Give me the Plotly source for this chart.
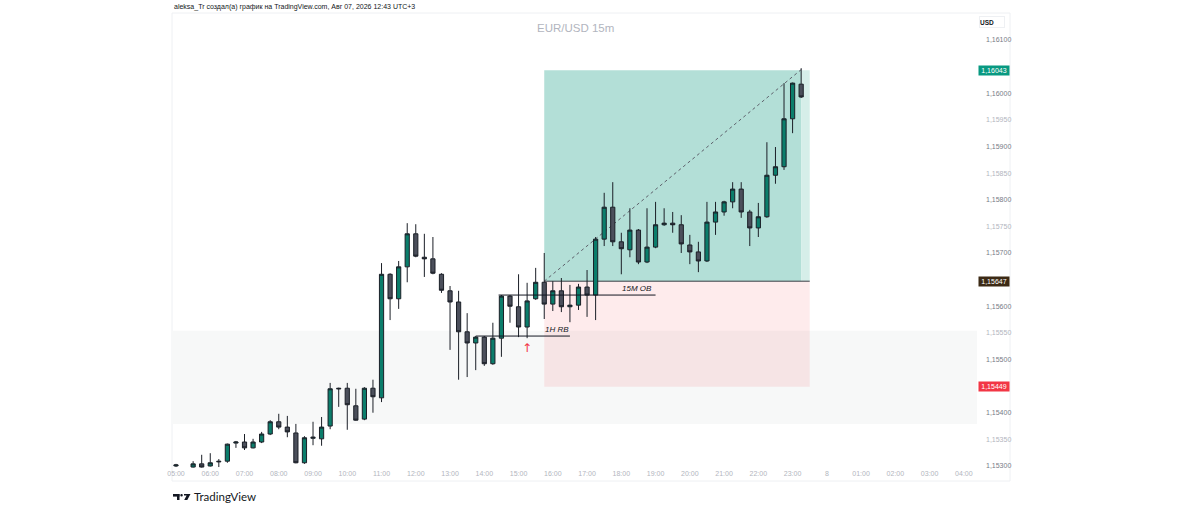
import pandas as pd
import plotly.graph_objects as go

# EUR/USD 15m candles, 07 Aug 2026 05:00 .. 23:15
times = pd.date_range("2026-08-07 05:00", periods=74, freq="15min")

opens = [1.15300, 1.15292, 1.15298, 1.15304, 1.15300, 1.15309, 1.15309, 1.15343, 1.15345, 1.15334,
         1.15345, 1.15360, 1.15383, 1.15373, 1.15362, 1.15306, 1.15352, 1.15351, 1.15375, 1.15446,
         1.15446, 1.15413, 1.15388, 1.15446, 1.15428, 1.15660, 1.15614, 1.15674, 1.15736, 1.15692,
         1.15689, 1.15660, 1.15629, 1.15608, 1.15552, 1.15531, 1.15542, 1.15492, 1.15540, 1.15619,
         1.15599, 1.15561, 1.15614, 1.15645, 1.15604, 1.15629, 1.15599, 1.15602, 1.15636, 1.15621,
         1.15726, 1.15786, 1.15721, 1.15706, 1.15743, 1.15683, 1.15711, 1.15753, 1.15756, 1.15753,
         1.15715, 1.15702, 1.15685, 1.15758, 1.15777, 1.15796, 1.15820, 1.15777, 1.15747, 1.15768,
         1.15846, 1.15862, 1.15952, 1.16017]
highs = [1.15304, 1.15294, 1.15309, 1.15321, 1.15324, 1.15313, 1.15342, 1.15347, 1.15360, 1.15351,
         1.15364, 1.15386, 1.15398, 1.15394, 1.15379, 1.15356, 1.15383, 1.15392, 1.15456, 1.15447,
         1.15456, 1.15445, 1.15448, 1.15462, 1.15681, 1.15662, 1.15685, 1.15756, 1.15754, 1.15736,
         1.15730, 1.15662, 1.15638, 1.15629, 1.15587, 1.15544, 1.15544, 1.15569, 1.15621, 1.15621,
         1.15660, 1.15644, 1.15672, 1.15700, 1.15647, 1.15653, 1.15640, 1.15642, 1.15668, 1.15730,
         1.15813, 1.15833, 1.15738, 1.15784, 1.15745, 1.15784, 1.15796, 1.15784, 1.15777, 1.15771,
         1.15734, 1.15721, 1.15796, 1.15796, 1.15798, 1.15833, 1.15833, 1.15781, 1.15794, 1.15908,
         1.15899, 1.16019, 1.16020, 1.16047]
lows = [1.15298, 1.15277, 1.15297, 1.15297, 1.15299, 1.15298, 1.15306, 1.15334, 1.15330, 1.15333,
        1.15343, 1.15358, 1.15369, 1.15354, 1.15305, 1.15304, 1.15339, 1.15338, 1.15369, 1.15411,
        1.15368, 1.15385, 1.15386, 1.15400, 1.15420, 1.15574, 1.15595, 1.15645, 1.15692, 1.15655,
        1.15660, 1.15625, 1.15518, 1.15462, 1.15467, 1.15480, 1.15488, 1.15490, 1.15505, 1.15569,
        1.15542, 1.15540, 1.15612, 1.15576, 1.15591, 1.15589, 1.15570, 1.15593, 1.15580, 1.15574,
        1.15713, 1.15713, 1.15660, 1.15692, 1.15679, 1.15681, 1.15709, 1.15751, 1.15738, 1.15700,
        1.15679, 1.15664, 1.15683, 1.15734, 1.15770, 1.15784, 1.15766, 1.15713, 1.15730, 1.15766,
        1.15830, 1.15856, 1.15925, 1.15991]
closes = [1.15302, 1.15283, 1.15304, 1.15298, 1.15306, 1.15308, 1.15341, 1.15345, 1.15334, 1.15345,
          1.15360, 1.15383, 1.15373, 1.15364, 1.15306, 1.15353, 1.15354, 1.15373, 1.15445, 1.15445,
          1.15415, 1.15386, 1.15446, 1.15430, 1.15660, 1.15614, 1.15674, 1.15736, 1.15694, 1.15689,
          1.15662, 1.15630, 1.15608, 1.15552, 1.15531, 1.15542, 1.15492, 1.15540, 1.15619, 1.15600,
          1.15561, 1.15610, 1.15645, 1.15604, 1.15629, 1.15599, 1.15602, 1.15636, 1.15621, 1.15726,
          1.15786, 1.15721, 1.15708, 1.15743, 1.15683, 1.15711, 1.15753, 1.15756, 1.15753, 1.15717,
          1.15702, 1.15685, 1.15758, 1.15777, 1.15796, 1.15820, 1.15777, 1.15747, 1.15768, 1.15846,
          1.15862, 1.15952, 1.16019, 1.15993]

# price levels of the long position tool and zones
take_profit = 1.16043
entry = 1.15647
stop_loss = 1.15449
range_zone = [1.15379, 1.15554]
rb_level = 1.15544
ob_level = 1.15621

# 1,15450 / 1,15650 / 1,16050 sit under the price labels, so they are left out
y_ticks = [1.15300, 1.15350, 1.15400, 1.15500, 1.15550, 1.15600, 1.15700,
           1.15750, 1.15800, 1.15850, 1.15900, 1.15950, 1.16000, 1.16100]
x_ticks = pd.date_range("2026-08-07 05:00", periods=24, freq="1h")
x_labels = ["05:00", "06:00", "07:00", "08:00", "09:00", "10:00", "11:00", "12:00", "13:00",
            "14:00", "15:00", "16:00", "17:00", "18:00", "19:00", "20:00", "21:00", "22:00",
            "23:00", "8", "01:00", "02:00", "03:00", "04:00"]

FONT = "Liberation Sans"


def price_text(v):
    return f"{v:.5f}".replace(".", ",")


def y_label(v):
    col = "#787b86" if round(v * 10000) % 10 == 0 else "#b2b5be"
    return f"<span style='color:{col}'>{price_text(v)}</span>"


# page pixel -> paper helpers (plot area is 172..977 x 14..468)
def xp(px):
    return (px - 172) / 805


def yp(py):
    return (468 - py) / 454


fig = go.Figure()
fig.add_trace(go.Candlestick(
    x=times, open=opens, high=highs, low=lows, close=closes,
    increasing=dict(fillcolor="#0b7d6b", line=dict(color="#1b1f27", width=1)),
    decreasing=dict(fillcolor="#4b4f5b", line=dict(color="#1b1f27", width=1)),
    whiskerwidth=0, hoverinfo="skip", showlegend=False,
))

shapes = [
    # outer pane border
    dict(type="rect", xref="paper", yref="paper", x0=xp(172), x1=xp(1010), y0=yp(13), y1=yp(481),
         line=dict(color="#eef0f3", width=1), fillcolor="rgba(0,0,0,0)", layer="below"),
    # grey range zone
    dict(type="rect", xref="paper", yref="y", x0=0, x1=1, y0=range_zone[0], y1=range_zone[1],
         fillcolor="#f7f8f8", line=dict(width=0), layer="below"),
    # long position: profit / loss
    dict(type="rect", xref="x", yref="y", x0="2026-08-07 15:45", x1="2026-08-07 23:15",
         y0=entry, y1=take_profit, fillcolor="#b3dfd7", line=dict(width=0), layer="below"),
    dict(type="rect", xref="x", yref="y", x0="2026-08-07 23:15", x1="2026-08-07 23:30",
         y0=entry, y1=take_profit, fillcolor="#d6eee9", line=dict(width=0), layer="below"),
    dict(type="rect", xref="x", yref="y", x0="2026-08-07 15:45", x1="2026-08-07 23:30",
         y0=stop_loss, y1=entry, fillcolor="rgba(242,54,69,0.10)", line=dict(width=0), layer="below"),
    dict(type="line", xref="x", yref="y", x0="2026-08-07 15:45", x1="2026-08-07 23:30",
         y0=entry, y1=entry, line=dict(color="#3a3d45", width=1), layer="below"),
    dict(type="line", xref="x", yref="y", x0="2026-08-07 15:45", x1="2026-08-07 23:18",
         y0=entry, y1=take_profit + 0.00004, line=dict(color="#5d606b", width=1, dash="dot"),
         layer="below"),
    # drawn levels
    dict(type="line", xref="x", yref="y", x0="2026-08-07 13:45", x1="2026-08-07 16:30",
         y0=rb_level, y1=rb_level, line=dict(color="#131722", width=1)),
    dict(type="line", xref="x", yref="y", x0="2026-08-07 14:25", x1="2026-08-07 19:00",
         y0=ob_level, y1=ob_level, line=dict(color="#131722", width=1)),
    # TradingView logo
    dict(type="rect", xref="paper", yref="paper", x0=xp(173), x1=xp(179.5), y0=yp(496.6), y1=yp(494),
         fillcolor="#131722", line=dict(width=0)),
    dict(type="rect", xref="paper", yref="paper", x0=xp(177), x1=xp(179.5), y0=yp(500), y1=yp(494),
         fillcolor="#131722", line=dict(width=0)),
    dict(type="circle", xref="paper", yref="paper", x0=xp(180.3), x1=xp(182.8), y0=yp(496.6),
         y1=yp(494), fillcolor="#131722", line=dict(width=0)),
    dict(type="path", xref="paper", yref="paper",
         path=f"M {xp(184)},{yp(494)} L {xp(190.5)},{yp(494)} L {xp(187.3)},{yp(500)} "
              f"L {xp(184.2)},{yp(500)} L {xp(186.6)},{yp(495.5)} L {xp(184)},{yp(495.5)} Z",
         fillcolor="#131722", line=dict(width=0)),
]

annotations = [
    dict(text="aleksa_Tr создал(а) график на TradingView.com, Авг 07, 2026 12:43 UTC+3",
         xref="paper", yref="paper", x=0, y=yp(7), xanchor="left", yanchor="middle",
         showarrow=False, font=dict(size=7, color="#131722", family=FONT)),
    dict(text="EUR/USD 15m", xref="paper", yref="paper", x=xp(575), y=yp(28),
         xanchor="center", yanchor="middle", showarrow=False,
         font=dict(size=11.5, color="#b2b5be", family=FONT)),
    dict(text="<b>USD</b>", xref="paper", yref="paper", x=xp(979), y=yp(22.5),
         xanchor="left", yanchor="middle", showarrow=False, width=24, height=10, align="left",
         bordercolor="#eef0f3", borderwidth=1, borderpad=0,
         font=dict(size=6.5, color="#131722", family=FONT)),
    dict(text="TradingView", xref="paper", yref="paper", x=xp(192), y=yp(496),
         xanchor="left", yanchor="middle", showarrow=False,
         font=dict(size=11.5, color="#131722", family="Lato")),
    dict(text="<i>1H RB</i>", xref="x", yref="y", x="2026-08-07 16:32", y=rb_level,
         xanchor="right", yanchor="bottom", showarrow=False, yshift=0,
         font=dict(size=8, color="#131722", family=FONT)),
    dict(text="<i>15M OB</i>", xref="x", yref="y", x="2026-08-07 18:58", y=ob_level,
         xanchor="right", yanchor="bottom", showarrow=False, yshift=0,
         font=dict(size=8, color="#131722", family=FONT)),
    dict(text="↑", xref="x", yref="y", x="2026-08-07 15:15", y=1.15522,
         xanchor="center", yanchor="middle", showarrow=False,
         font=dict(size=12, color="#f23645", family="DejaVu Sans")),
]

for level, bg in [(take_profit, "#089981"), (entry, "#3c2a15"), (stop_loss, "#f23645")]:
    annotations.append(dict(
        text=price_text(level), xref="paper", yref="y", x=xp(978), y=level,
        xanchor="left", yanchor="middle", showarrow=False, bgcolor=bg, width=30, height=9,
        borderpad=0, font=dict(size=7, color="white", family=FONT)))

fig.update_layout(
    width=1184, height=513,
    margin=dict(l=172, r=207, t=14, b=45),
    paper_bgcolor="white", plot_bgcolor="white",
    font=dict(family=FONT),
    shapes=shapes, annotations=annotations,
    showlegend=False, hovermode=False,
)
fig.update_xaxes(
    range=["2026-08-07 04:53", "2026-08-08 04:23"],
    rangeslider_visible=False, showgrid=False, zeroline=False, showline=False,
    tickvals=x_ticks, ticktext=x_labels, ticks="", ticklabelstandoff=0,
    tickfont=dict(size=7, color="#b2b5be", family=FONT),
)
fig.update_yaxes(
    range=[1.152962, 1.161488], side="right",
    showgrid=False, zeroline=False, showline=False,
    tickvals=y_ticks, ticktext=[y_label(v) for v in y_ticks], ticks="",
    ticklabelstandoff=8,
    tickfont=dict(size=7, color="#787b86", family=FONT),
)

# drop the browser's default 8px body margin so the figure fills the window
fig.write_html("out.html", config={"displayModeBar": False},
               post_script="document.body.style.margin = '0px';")
